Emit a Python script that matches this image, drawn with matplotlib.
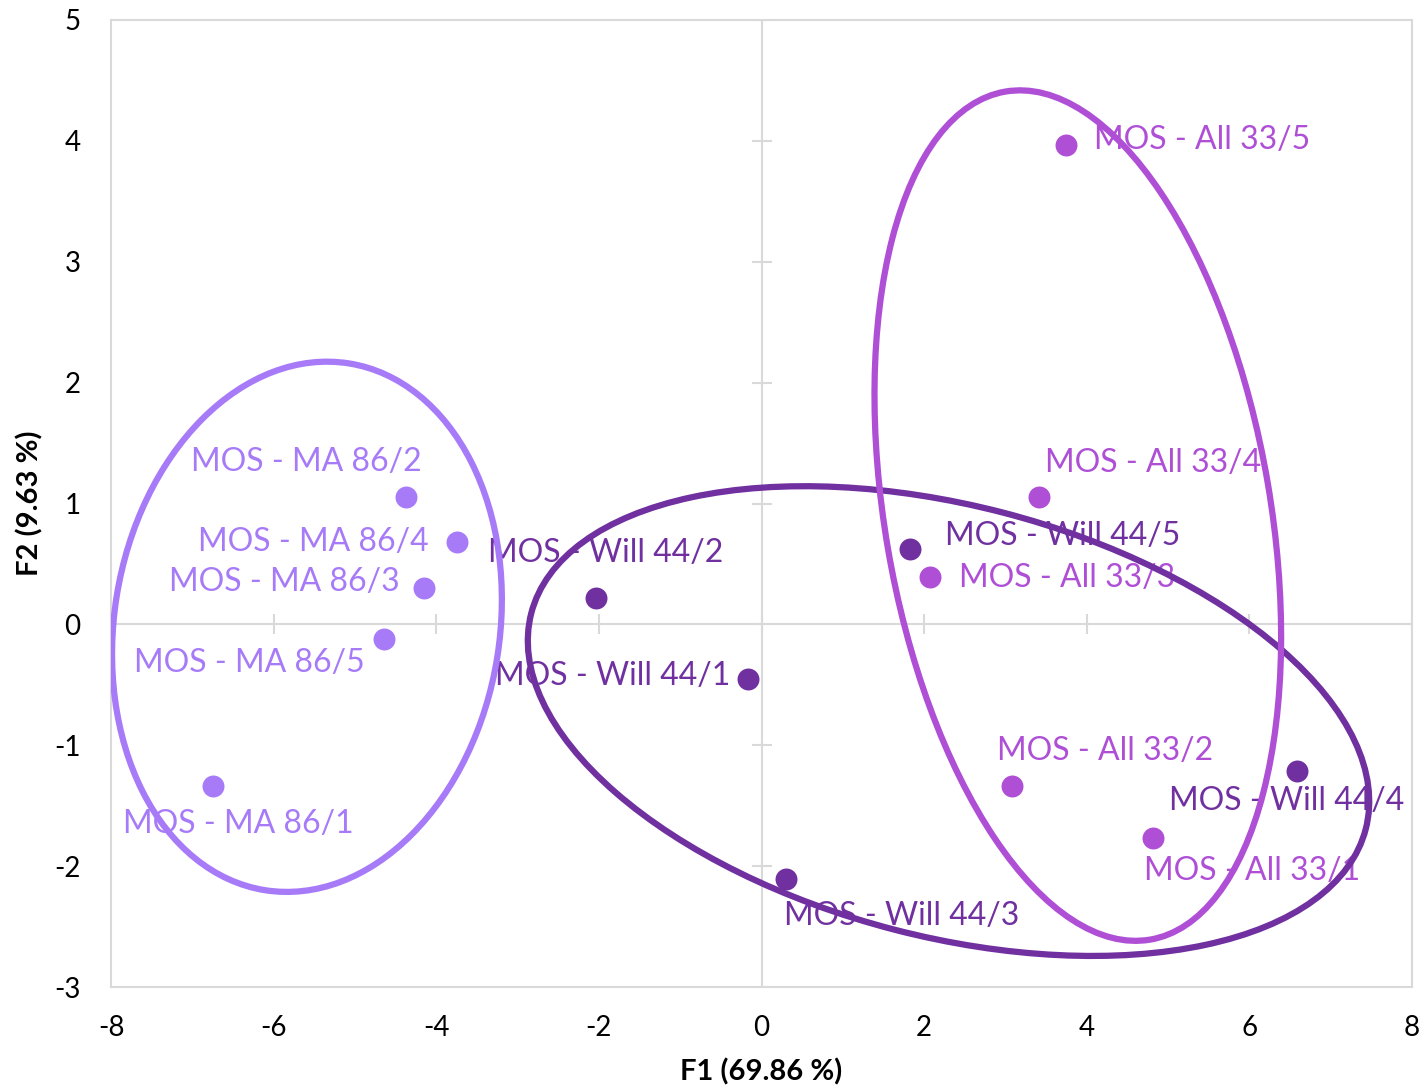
import matplotlib
matplotlib.use("Agg")
import matplotlib.pyplot as plt
from matplotlib.patches import Ellipse
from matplotlib.transforms import Affine2D

plt.rcParams['font.family'] = ['Lato', 'DejaVu Sans']
plt.rcParams['axes.unicode_minus'] = False

# PCA scores
ma_labels = ["MOS - MA 86/2", "MOS - MA 86/4", "MOS - MA 86/3", "MOS - MA 86/5", "MOS - MA 86/1"]
ma_f1 = [-4.37, -3.75, -4.15, -4.64, -6.74]
ma_f2 = [1.05, 0.68, 0.30, -0.12, -1.34]

will_labels = ["MOS - Will 44/2", "MOS - Will 44/1", "MOS - Will 44/5", "MOS - Will 44/3", "MOS - Will 44/4"]
will_f1 = [-2.04, -0.17, 1.83, 0.30, 6.58]
will_f2 = [0.22, -0.45, 0.62, -2.11, -1.21]

all_labels = ["MOS - All 33/5", "MOS - All 33/4", "MOS - All 33/3", "MOS - All 33/2", "MOS - All 33/1"]
all_f1 = [3.75, 3.41, 2.07, 3.08, 4.81]
all_f2 = [3.97, 1.05, 0.39, -1.34, -1.77]

# label offsets in pixels (dx, dy) from the point to the label centre
ma_off = [(-100, 35), (-143, 0), (-140, 6), (-135, -24), (25, -38)]
will_off = [(10, 45), (-135, 3), (152, 13), (116, -37), (-10, -30)]
all_off = [(136, 5), (114, 34), (137, -1), (93, 35), (99, -33)]

# group ellipses: centre (f1, f2), semi-axes in F1 units (screen-proportional), angle in degrees
ma_ell = (-5.59, -0.02, 3.28, 2.37, 80.9)
will_ell = (2.30, -0.80, 5.30, 2.65, -14.5)
all_ell = (3.89, 0.90, 5.29, 2.37, 99.7)

c_ma = '#A77BF8'
c_will = '#7030A0'
c_all = '#AE4FD6'

fig = plt.figure(figsize=(14.27, 10.91), dpi=100)
ax = fig.add_axes([111 / 1427, 1 - 987 / 1091, 1301 / 1427, 967 / 1091])
ax.set_xlim(-8, 8)
ax.set_ylim(-3, 5)

for s in ax.spines.values():
    s.set_color('#D9D9D9')
    s.set_linewidth(1.5)

ax.set_xticks(range(-8, 9, 2))
ax.set_yticks(range(-3, 6))
ax.tick_params(length=0, labelsize=20)
ax.tick_params(axis='x', pad=20)
ax.tick_params(axis='y', pad=22)

# zero axes with cross tick marks
ax.axhline(0, color='#D9D9D9', lw=1.5, zorder=1)
ax.axvline(0, color='#D9D9D9', lw=1.5, zorder=1)
ax.plot([0] * 9, range(-3, 6), ls='none', marker='_', ms=15, mew=1.5, color='#D9D9D9', zorder=1)
ax.plot(range(-8, 9, 2), [0] * 9, ls='none', marker='|', ms=15, mew=1.5, color='#D9D9D9', zorder=1)

ax.set_xlabel("F1 (69.86 %)", fontsize=21, fontweight='bold')
ax.set_ylabel("F2 (9.63 %)", fontsize=21, fontweight='bold')
ax.xaxis.set_label_coords(0.5, -0.074)
ax.yaxis.set_label_coords(-0.052, 0.5)

# screen aspect: pixels per F2 unit over pixels per F1 unit
w_px = ax.get_position().width * fig.get_figwidth()
h_px = ax.get_position().height * fig.get_figheight()
k = (h_px / 8) / (w_px / 16)
scaled = Affine2D().scale(1, 1 / k) + ax.transData

groups = [
    (ma_labels, ma_f1, ma_f2, ma_off, ma_ell, c_ma),
    (will_labels, will_f1, will_f2, will_off, will_ell, c_will),
    (all_labels, all_f1, all_f2, all_off, all_ell, c_all),
]

for labels, xs, ys, offs, ell, col in groups:
    ax.scatter(xs, ys, s=250, color=col, zorder=3, linewidths=0)
    for lab, x, y, (dx, dy) in zip(labels, xs, ys, offs):
        ax.annotate(lab, (x, y), xytext=(dx, dy), textcoords='offset pixels',
                    ha='center', va='center', fontsize=23, color=col, zorder=4)
    cx, cy, a, b, ang = ell
    e = Ellipse((cx, cy * k), 2 * a, 2 * b, angle=ang, transform=scaled,
                fill=False, edgecolor=col, lw=4.5, zorder=5)
    ax.add_patch(e)

fig.savefig('out.png', dpi=100)
